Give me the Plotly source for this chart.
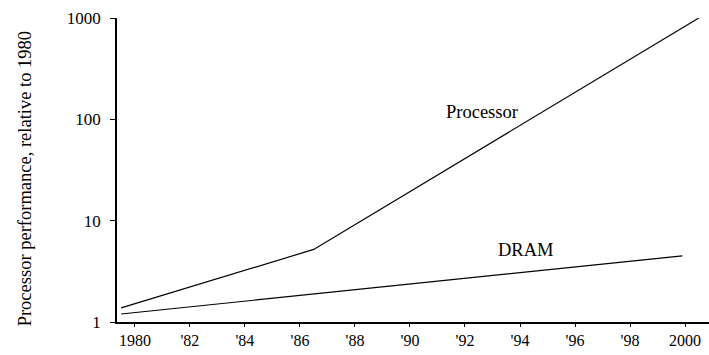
import plotly.graph_objects as go

years_tick = [1980, 1982, 1984, 1986, 1988, 1990, 1992, 1994, 1996, 1998, 2000]
tick_text = ["1980", "'82", "'84", "'86", "'88", "'90", "'92", "'94", "'96", "'98", "2000"]

proc_years = [1979.5, 1986.5, 2000.5]
proc_values = [1.38, 5.2, 1000]

dram_years = [1979.5, 1999.9]
dram_values = [1.2, 4.5]

FONT = "Liberation Serif, Times New Roman, serif"

fig = go.Figure()
fig.add_trace(go.Scatter(x=proc_years, y=proc_values, mode="lines",
                         line=dict(color="black", width=1.2), name="Processor"))
fig.add_trace(go.Scatter(x=dram_years, y=dram_values, mode="lines",
                         line=dict(color="black", width=1.2), name="DRAM"))

fig.add_annotation(x=1992.6, y=2.07, text="Processor", showarrow=False,
                   font=dict(family=FONT, size=18.5, color="black"))
fig.add_annotation(x=1994.2, y=0.713, text="DRAM", showarrow=False,
                   font=dict(family=FONT, size=18.5, color="black"))
fig.add_annotation(x=-0.155, y=0.47, xref="paper", yref="paper",
                   text="Processor performance, relative to 1980", textangle=-90,
                   showarrow=False, xanchor="center", yanchor="middle",
                   font=dict(family=FONT, size=18.5, color="black"))

fig.update_layout(
    width=709, height=355,
    margin=dict(l=117, r=0, t=18, b=33),
    paper_bgcolor="white", plot_bgcolor="white",
    showlegend=False,
    font=dict(family=FONT, size=16, color="black"),
)
fig.update_xaxes(range=[1979.35, 2000.87], tickvals=years_tick, ticktext=tick_text,
                 showgrid=False, zeroline=False, showline=True, linecolor="black",
                 linewidth=1.5, ticks="outside", ticklen=3, tickcolor="black",
                 tickfont=dict(family=FONT, size=16))
fig.update_yaxes(type="log", range=[0, 3], tickvals=[1, 10, 100, 1000],
                 ticktext=["1", "10", "100", "1000"],
                 showgrid=False, zeroline=False, showline=True, linecolor="black",
                 linewidth=1.5, ticks="outside", ticklen=5, tickcolor="black",
                 ticklabelstandoff=6,
                 tickfont=dict(family=FONT, size=17))

fig.write_html("out.html")
